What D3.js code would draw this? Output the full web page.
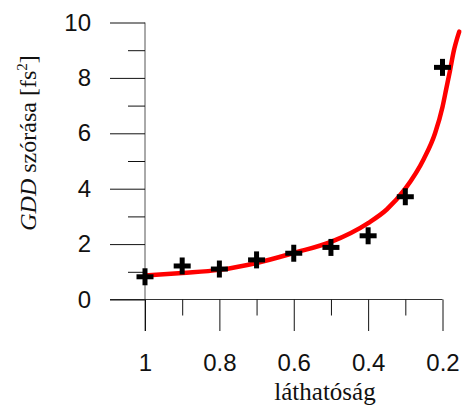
<!DOCTYPE html>
<html><head><meta charset="utf-8">
<script src="https://cdn.jsdelivr.net/npm/d3@7"></script>
<style>body{margin:0;background:#fff}svg{display:block}</style>
</head><body><svg id="c" width="464" height="405"></svg>
<script>
// measured points
const visX = [1, 0.9, 0.8, 0.7, 0.6, 0.5, 0.4, 0.3, 0.2];
const gddStd = [0.82, 1.21, 1.10, 1.43, 1.67, 1.88, 2.30, 3.71, 8.38];
// fitted curve
const fitX = [1, 0.9, 0.8, 0.7, 0.6, 0.5, 0.4, 0.35, 0.3, 0.25, 0.22, 0.2, 0.19, 0.18, 0.17, 0.155];
const fitY = [0.87, 0.96, 1.07, 1.32, 1.68, 2.08, 2.76, 3.25, 4.0, 5.08, 6.0, 6.95, 7.6, 8.25, 8.95, 9.67];
const xMajor = [1, 0.8, 0.6, 0.4, 0.2];
const xMinor = [0.9, 0.7, 0.5, 0.3];
const yMajor = [0, 2, 4, 6, 8, 10];
const yMinor = [1, 3, 5, 7, 9];

const SERIF = "Liberation Serif, Times New Roman, serif";
const SANS = "Liberation Sans, Arial, sans-serif";

const svg = d3.select("#c");
const x = d3.scaleLinear().domain([1, 0.2]).range([145, 442.5]);
const y = d3.scaleLinear().domain([0, 10]).range([299.5, 22.5]);

// axis lines
svg.append("line").attr("x1",145).attr("x2",145).attr("y1",y(10)).attr("y2",331)
  .attr("stroke","#555").attr("stroke-width",1);
svg.append("line").attr("x1",110).attr("x2",x(0.2)).attr("y1",y(0)).attr("y2",y(0))
  .attr("stroke","#333").attr("stroke-width",1);

// y ticks
const gy = svg.append("g").attr("transform","translate(145,0)")
  .call(d3.axisLeft(y).tickValues(yMajor).tickSize(35).tickPadding(19).tickFormat(d3.format("d")));
gy.select(".domain").remove();
gy.selectAll("line").attr("stroke","#111");
gy.selectAll("text").attr("font-family",SANS).attr("font-size",24).attr("fill","#111");
const gym = svg.append("g").attr("transform","translate(145,0)")
  .call(d3.axisLeft(y).tickValues(yMinor).tickSize(17).tickFormat(""));
gym.select(".domain").remove();
gym.selectAll("line").attr("stroke","#111");

// x ticks
const gx = svg.append("g").attr("transform",`translate(0,${y(0)})`)
  .call(d3.axisBottom(x).tickValues(xMajor).tickSize(31.5).tickPadding(23).tickFormat(d3.format("")));
gx.select(".domain").remove();
gx.selectAll("line").attr("stroke","#111");
gx.selectAll("text").attr("font-family",SANS).attr("font-size",24).attr("fill","#111");
const gxm = svg.append("g").attr("transform",`translate(0,${y(0)})`)
  .call(d3.axisBottom(x).tickValues(xMinor).tickSize(16).tickFormat(""));
gxm.select(".domain").remove();
gxm.selectAll("line").attr("stroke","#111");

// fit curve
const fit = fitX.map((d,i)=>[d, fitY[i]]);
svg.append("path").datum(fit)
  .attr("d", d3.line().x(d=>x(d[0])).y(d=>y(d[1])).curve(d3.curveMonotoneX))
  .attr("fill","none").attr("stroke","#ff0000").attr("stroke-width",4.5).attr("stroke-linecap","round");

// crosses
const pts = svg.append("g");
visX.forEach((d,i)=>{
  const cx = x(d), cy = y(gddStd[i]);
  pts.append("line").attr("x1",cx-8.5).attr("x2",cx+8.5).attr("y1",cy).attr("y2",cy)
    .attr("stroke","#000").attr("stroke-width",5);
  pts.append("line").attr("x1",cx).attr("x2",cx).attr("y1",cy-8.5).attr("y2",cy+8.5)
    .attr("stroke","#000").attr("stroke-width",5);
});

// titles
svg.append("text").attr("x",325).attr("y",400).attr("text-anchor","middle")
  .attr("font-family",SERIF).attr("font-size",25).attr("fill","#111")
  .text("láthatóság");
const yt = svg.append("text").attr("transform","translate(36,143) rotate(-90)").attr("text-anchor","middle")
  .attr("font-family",SERIF).attr("font-size",24).attr("fill","#111");
yt.append("tspan").attr("font-style","italic").text("GDD");
yt.append("tspan").text(" szórása [fs");
yt.append("tspan").attr("dy",-9).attr("font-size",15).text("2");
yt.append("tspan").attr("dy",9).text("]");
</script></body></html>
